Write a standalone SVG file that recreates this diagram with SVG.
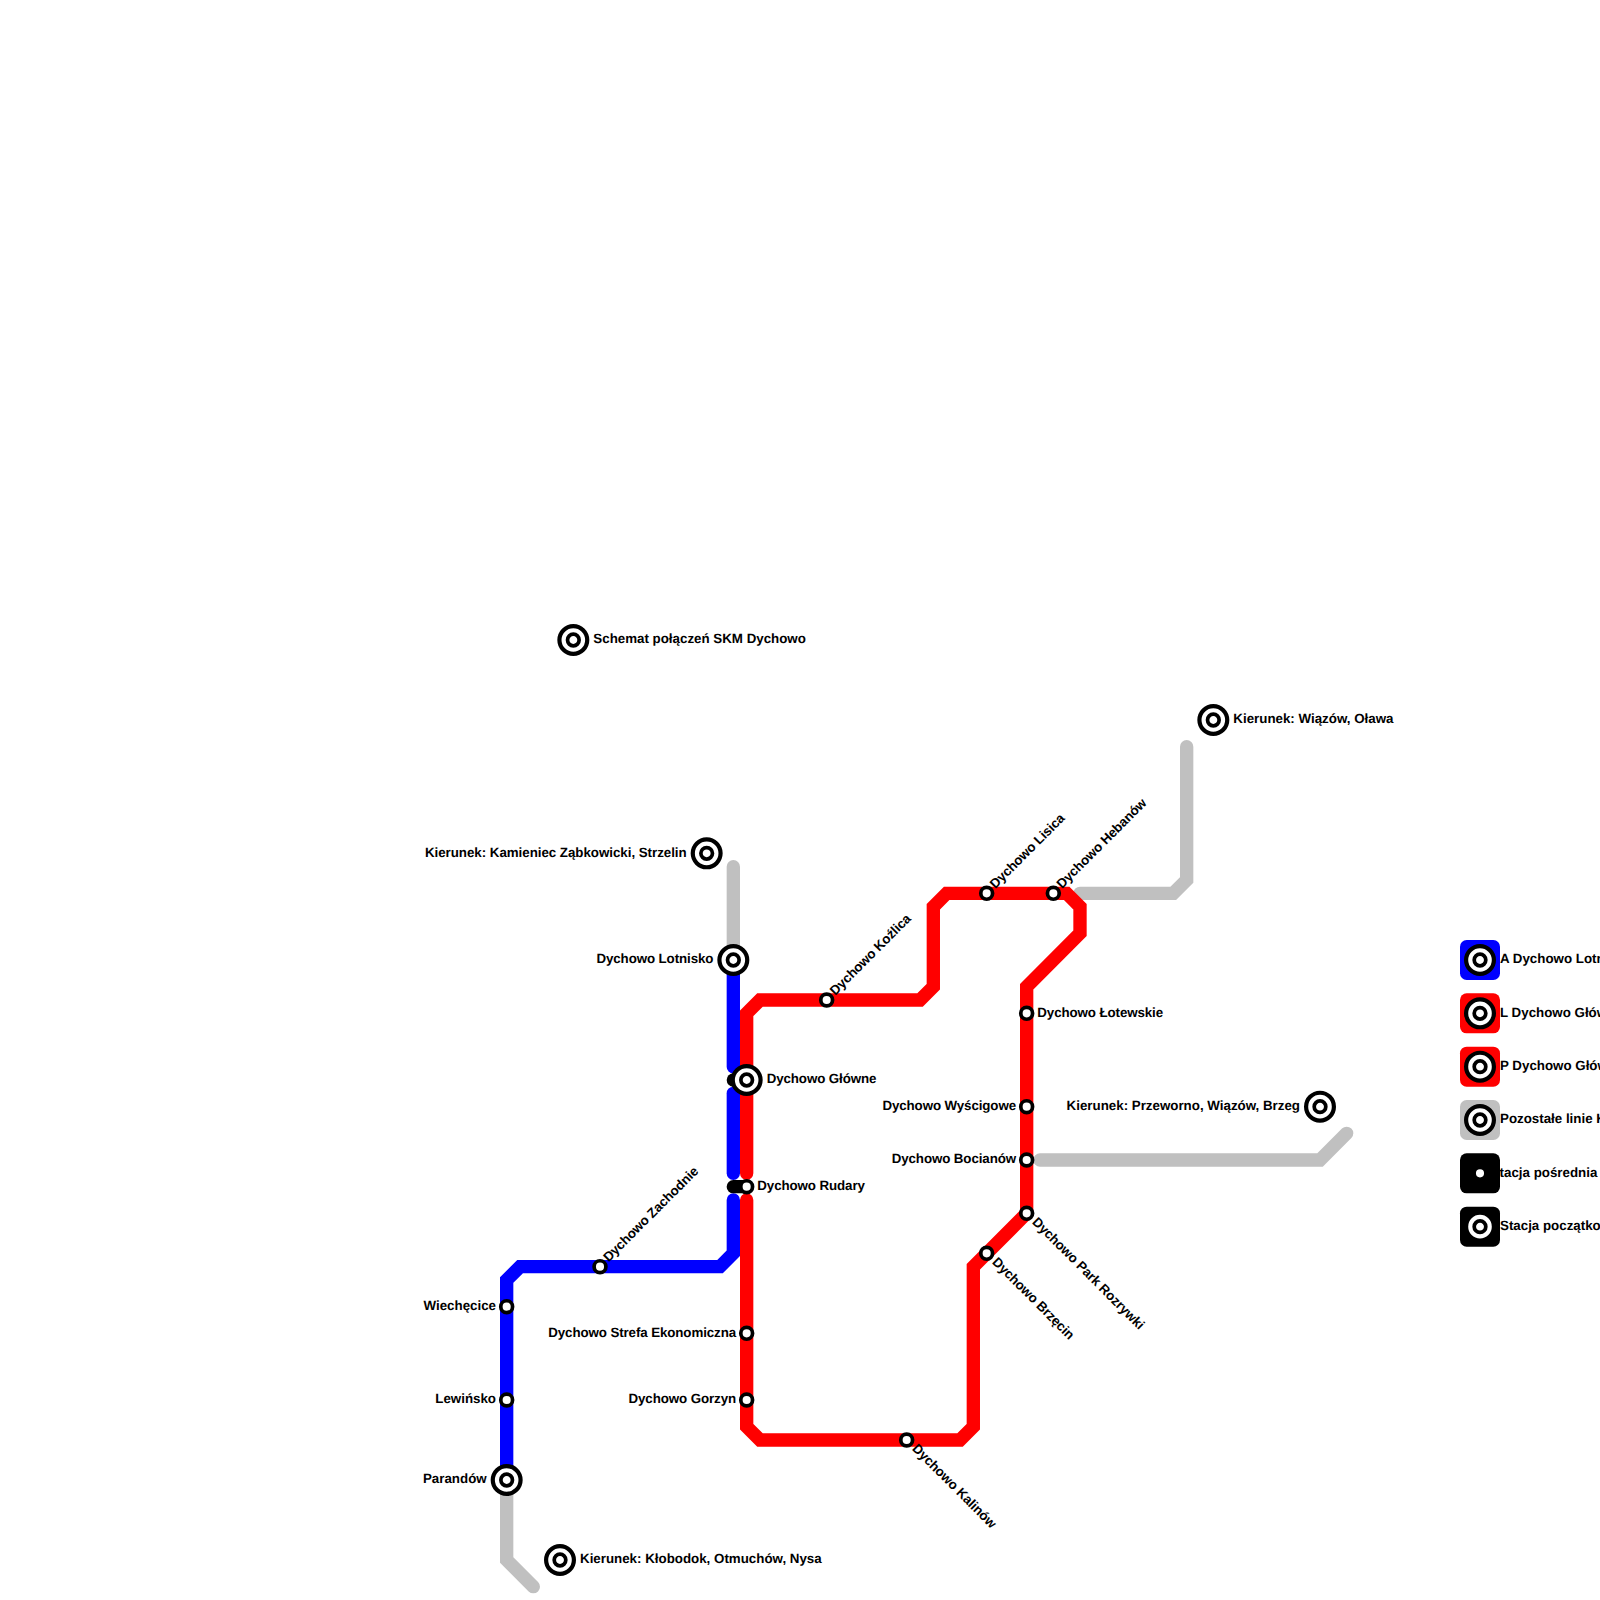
<svg xmlns="http://www.w3.org/2000/svg" width="1600" height="1600" viewBox="0 0 1600 1600">
<style>
.l{fill:none;stroke-width:13.33;stroke-linecap:round;stroke-linejoin:miter}
.a{stroke:#00f}.r{stroke:#f00}.g{stroke:#c0c0c0}.k{stroke:#000}
text{font-family:"Liberation Sans",Arial,sans-serif;font-weight:bold;font-size:13.33px;fill:#000;text-rendering:geometricPrecision}
.e{text-anchor:end}
.d{letter-spacing:-0.1px}
.o{fill:#fff;stroke:#000;stroke-width:4.2}
.i{fill:#fff;stroke:#000;stroke-width:3.7}
</style>
<defs>
<g id="big"><circle class="o" r="13.9"/><circle class="i" r="5.8"/></g>
<g id="small"><circle class="i" r="5.9"/></g>
</defs>
<g id="connectors">
<path class="l g" d="M733.33 866.67V960"/>
<path class="l g" d="M1080 893.33H1173.33L1186.67 880V746.67"/>
<path class="l g" d="M1040 1160H1320L1346.67 1133.33"/>
<path class="l g" d="M506.67 1480V1560L533.33 1586.67"/>
<path class="l a" d="M733.33 960V1066.67"/>
<path class="l a" d="M733.33 1093.33V1173.33"/>
<path class="l a" d="M733.33 1200V1253.33L720 1266.67H520L506.67 1280V1480"/>
<path class="l r" d="M746.67 1173.33V1013.33L760 1000H920L933.33 986.67V906.67L946.67 893.33H1066.67L1080 906.67V933.33L1026.67 986.67V1213.33L973.33 1266.67V1426.67L960 1440H760L746.67 1426.67V1200"/>
<path class="l k" d="M733.33 1080H746.67"/>
<path class="l k" d="M733.33 1186.67H746.67"/>
</g>
<g id="title"><use href="#big" x="573.33" y="640"/><text x="593.33" y="643.2">Schemat połączeń SKM Dychowo</text></g>
<g id="kier-wiazow"><use href="#big" x="1213.33" y="720"/><text x="1233.33" y="723.2">Kierunek: Wiązów, Oława</text></g>
<g id="kier-kamieniec"><use href="#big" x="706.67" y="853.33"/><text class="e" x="686.67" y="856.5" letter-spacing="-0.03">Kierunek: Kamieniec Ząbkowicki, Strzelin</text></g>
<g id="lotnisko"><use href="#big" x="733.33" y="960"/><text class="e d" x="713.33" y="963.2">Dychowo Lotnisko</text></g>
<g id="glowne"><use href="#big" x="746.67" y="1080"/><text class="d" x="766.67" y="1083.2">Dychowo Główne</text></g>
<g id="rudary"><use href="#small" x="746.67" y="1186.67"/><text class="d" x="757.33" y="1189.9">Dychowo Rudary</text></g>
<g id="kozlica"><use href="#small" x="826.67" y="1000"/><text class="d" transform="translate(826.67 1000) rotate(-45)" x="9" y="3.2">Dychowo Koźlica</text></g>
<g id="lisica"><use href="#small" x="986.67" y="893.33"/><text class="d" transform="translate(986.67 893.33) rotate(-45)" x="9" y="3.2">Dychowo Lisica</text></g>
<g id="hebanow"><use href="#small" x="1053.33" y="893.33"/><text class="d" transform="translate(1053.33 893.33) rotate(-45)" x="9" y="3.2">Dychowo Hebanów</text></g>
<g id="zachodnie"><use href="#small" x="600" y="1266.67"/><text class="d" transform="translate(600 1266.67) rotate(-45)" x="9" y="3.2">Dychowo Zachodnie</text></g>
<g id="lotewskie"><use href="#small" x="1026.67" y="1013.33"/><text class="d" x="1037.33" y="1016.5">Dychowo Łotewskie</text></g>
<g id="wyscigowe"><use href="#small" x="1026.67" y="1106.67"/><text class="e d" x="1016" y="1109.9">Dychowo Wyścigowe</text></g>
<g id="bocianow"><use href="#small" x="1026.67" y="1160"/><text class="e d" x="1016" y="1163.2">Dychowo Bocianów</text></g>
<g id="park"><use href="#small" x="1026.67" y="1213.33"/><text class="d" transform="translate(1026.67 1213.33) rotate(45)" x="10" y="3.2">Dychowo Park Rozrywki</text></g>
<g id="brzecin"><use href="#small" x="986.67" y="1253.33"/><text class="d" transform="translate(986.67 1253.33) rotate(45)" x="10" y="3.2">Dychowo Brzęcin</text></g>
<g id="kalinow"><use href="#small" x="906.67" y="1440"/><text class="d" transform="translate(906.67 1440) rotate(45)" x="10" y="3.2">Dychowo Kalinów</text></g>
<g id="przeworno"><use href="#big" x="1320" y="1106.67"/><text class="e" x="1300" y="1109.9">Kierunek: Przeworno, Wiązów, Brzeg</text></g>
<g id="strefa"><use href="#small" x="746.67" y="1333.33"/><text class="e d" x="736" y="1336.5">Dychowo Strefa Ekonomiczna</text></g>
<g id="gorzyn"><use href="#small" x="746.67" y="1400"/><text class="e d" x="736" y="1403.2">Dychowo Gorzyn</text></g>
<g id="wiechecice"><use href="#small" x="506.67" y="1306.67"/><text class="e" x="496" y="1309.9">Wiechęcice</text></g>
<g id="lewinsko"><use href="#small" x="506.67" y="1400"/><text class="e" x="496" y="1403.2">Lewińsko</text></g>
<g id="parandow"><use href="#big" x="506.67" y="1480"/><text class="e" x="486.67" y="1483.2">Parandów</text></g>
<g id="kier-klobodok"><use href="#big" x="560" y="1560"/><text x="580" y="1563.2">Kierunek: Kłobodok, Otmuchów, Nysa</text></g>
<g id="legend-a"><text x="1500" y="963.2">A Dychowo Lotn</text><rect x="1460" y="940" width="40" height="40" rx="6.67" fill="#00f"/><use href="#big" x="1480" y="960"/></g>
<g id="legend-l"><text x="1500" y="1016.5">L Dychowo Głów</text><rect x="1460" y="993.33" width="40" height="40" rx="6.67" fill="#f00"/><use href="#big" x="1480" y="1013.33"/></g>
<g id="legend-p"><text x="1500" y="1069.9">P Dychowo Głów</text><rect x="1460" y="1046.67" width="40" height="40" rx="6.67" fill="#f00"/><use href="#big" x="1480" y="1066.67"/></g>
<g id="legend-poz"><text x="1500" y="1123.2">Pozostałe linie K</text><rect x="1460" y="1100" width="40" height="40" rx="6.67" fill="#c0c0c0"/><use href="#big" x="1480" y="1120"/></g>
<g id="legend-posr"><text x="1490.67" y="1176.5">Stacja pośrednia</text><rect x="1460" y="1153.33" width="40" height="40" rx="6.67" fill="#000"/><use href="#small" x="1480" y="1173.33"/></g>
<g id="legend-pocz"><text x="1500" y="1229.9">Stacja początko</text><rect x="1460" y="1206.67" width="40" height="40" rx="6.67" fill="#000"/><use href="#big" x="1480" y="1226.67"/></g>
</svg>
